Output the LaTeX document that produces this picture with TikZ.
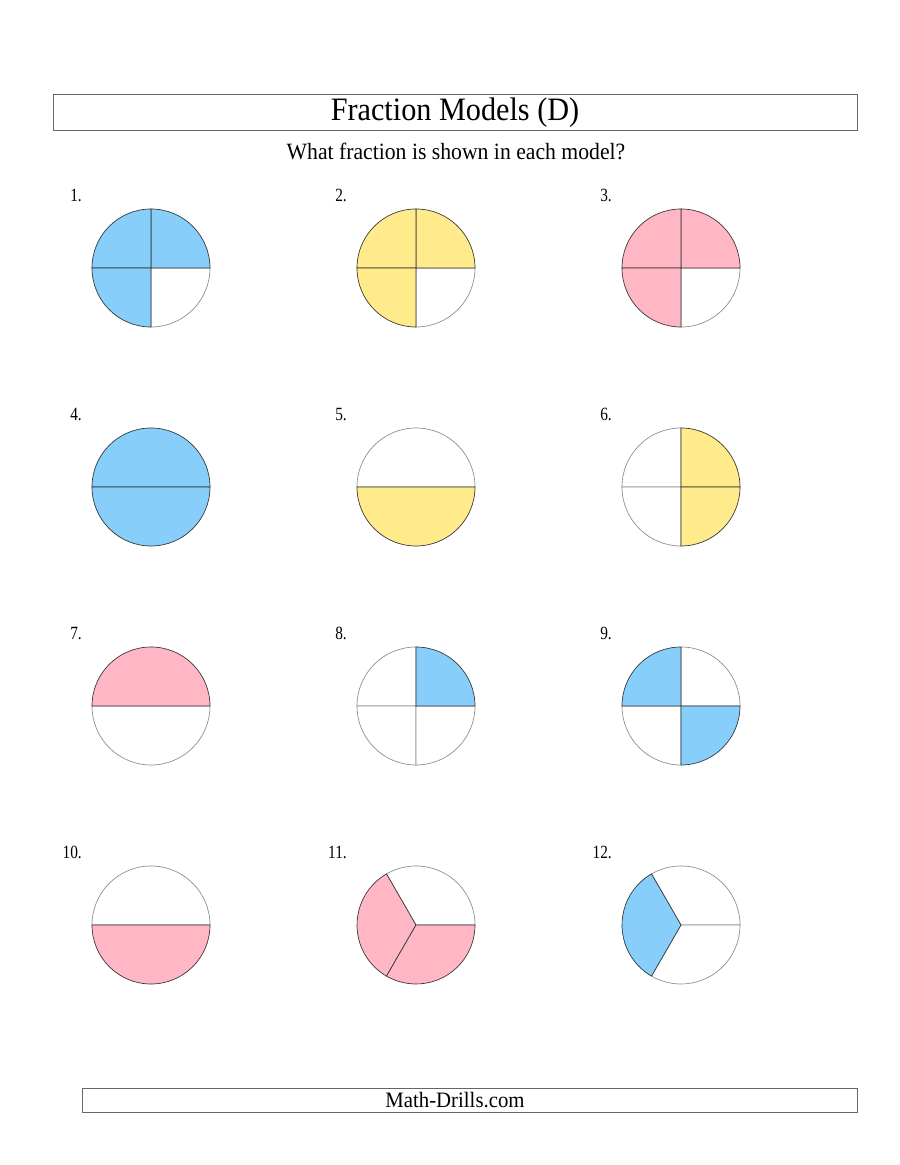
\documentclass[tikz,border=0pt]{standalone}
\usepackage{fontspec}
\setmainfont{Liberation Serif}
\definecolor{fblue}{RGB}{135,206,250}
\definecolor{fyellow}{RGB}{255,234,140}
\definecolor{fpink}{RGB}{255,183,197}
\newcommand{\wsec}[4]{\filldraw[fill=white,draw=black!45,line width=0.5pt] (#1,#2) -- ++(#3:59) arc[start angle=#3,end angle=#4,radius=59] -- cycle;}
\newcommand{\csec}[5]{\filldraw[fill=#5,draw=black!80,line width=0.5pt] (#1,#2) -- ++(#3:59) arc[start angle=#3,end angle=#4,radius=59] -- cycle;}
\newcommand{\lb}[1]{\scalebox{0.82}[1]{#1}}
\tikzset{
  boxline/.style={draw=black!60,line width=0.6pt},
  lbl/.style={anchor=base east,inner sep=0pt,font=\fontsize{14}{16}\selectfont},
}
\begin{document}
\begin{tikzpicture}[x=0.75pt,y=0.75pt]
\useasboundingbox[fill=white] (0,0) rectangle (900,1165);
% header
\draw[boxline] (53,1035) rectangle (857,1071);
\node[anchor=base,inner sep=0pt,font=\fontsize{24.5}{28}\selectfont] (title) at (455,1044) {\scalebox{0.925}[1]{Fraction Models (D)}};
\node[anchor=base,inner sep=0pt,font=\fontsize{17.5}{20}\selectfont] (sub) at (456,1005) {\scalebox{0.93}[1]{What fraction is shown in each model?}};
% labels
\node[lbl] (l1) at (82,963) {\lb{1.}};
\node[lbl] (l2) at (347,963) {\lb{2.}};
\node[lbl] (l3) at (612,963) {\lb{3.}};
\node[lbl] (l4) at (82,744) {\lb{4.}};
\node[lbl] (l5) at (347,744) {\lb{5.}};
\node[lbl] (l6) at (612,744) {\lb{6.}};
\node[lbl] (l7) at (82,525) {\lb{7.}};
\node[lbl] (l8) at (347,525) {\lb{8.}};
\node[lbl] (l9) at (612,525) {\lb{9.}};
\node[lbl] (l10) at (82,306) {\lb{10.}};
\node[lbl] (l11) at (347,306) {\lb{11.}};
\node[lbl] (l12) at (612,306) {\lb{12.}};
% 1
\wsec{151}{897}{270}{360}
\csec{151}{897}{0}{90}{fblue}
\csec{151}{897}{90}{180}{fblue}
\csec{151}{897}{180}{270}{fblue}
% 2
\wsec{416}{897}{270}{360}
\csec{416}{897}{0}{90}{fyellow}
\csec{416}{897}{90}{180}{fyellow}
\csec{416}{897}{180}{270}{fyellow}
% 3
\wsec{681}{897}{270}{360}
\csec{681}{897}{0}{90}{fpink}
\csec{681}{897}{90}{180}{fpink}
\csec{681}{897}{180}{270}{fpink}
% 4
\csec{151}{678}{0}{180}{fblue}
\csec{151}{678}{180}{360}{fblue}
% 5
\wsec{416}{678}{0}{180}
\csec{416}{678}{180}{360}{fyellow}
% 6
\wsec{681}{678}{90}{180}
\wsec{681}{678}{180}{270}
\csec{681}{678}{0}{90}{fyellow}
\csec{681}{678}{270}{360}{fyellow}
% 7
\wsec{151}{459}{180}{360}
\csec{151}{459}{0}{180}{fpink}
% 8
\wsec{416}{459}{90}{180}
\wsec{416}{459}{180}{270}
\wsec{416}{459}{270}{360}
\csec{416}{459}{0}{90}{fblue}
% 9
\wsec{681}{459}{0}{90}
\wsec{681}{459}{180}{270}
\csec{681}{459}{90}{180}{fblue}
\csec{681}{459}{270}{360}{fblue}
% 10
\wsec{151}{240}{0}{180}
\csec{151}{240}{180}{360}{fpink}
% 11
\wsec{416}{240}{0}{120}
\csec{416}{240}{120}{240}{fpink}
\csec{416}{240}{240}{360}{fpink}
% 12
\wsec{681}{240}{0}{120}
\wsec{681}{240}{240}{360}
\csec{681}{240}{120}{240}{fblue}
% footer
\draw[boxline] (82,53) rectangle (857,77);
\node[anchor=base,inner sep=0pt,font=\fontsize{16.5}{19}\selectfont] (foot) at (455,57) {\scalebox{0.945}[1]{Math-Drills.com}};
\end{tikzpicture}
\end{document}
